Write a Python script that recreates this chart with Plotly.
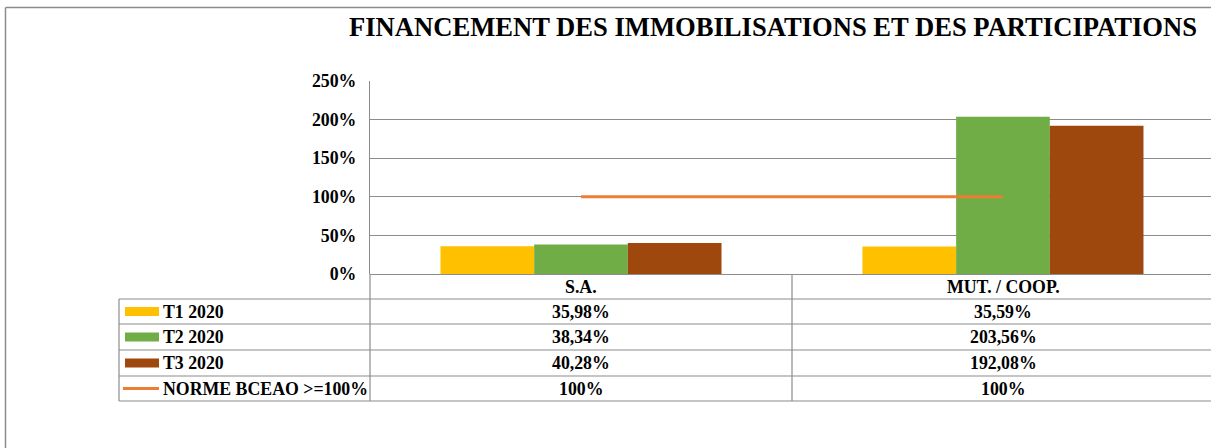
import plotly.graph_objects as go

# ---------------- data ----------------
categories = ["S.A.", "MUT. / COOP."]
series_names = ["T1 2020", "T2 2020", "T3 2020"]
t1_2020 = [0.3598, 0.3559]
t2_2020 = [0.3834, 2.0356]
t3_2020 = [0.4028, 1.9208]
norme_name = "NORME BCEAO >=100%"
norme_bceao = [1.00, 1.00]
y_ticks = [0, 0.5, 1.0, 1.5, 2.0, 2.5]
title_text = "FINANCEMENT DES IMMOBILISATIONS ET DES PARTICIPATIONS"

# ---------------- style ----------------
W, H = 1211, 448
colors = ["#FFC000", "#70AD47", "#9E480E"]
line_color = "#ED7D31"
grid_color = "#8C8C8C"
FONT = "Liberation Serif"
fs = 17.8

# plot area in pixels
PL, PR, PT, PB = 370, 1211, 81, 274
fig = go.Figure()

series = [t1_2020, t2_2020, t3_2020]
for name, vals, c in zip(series_names, series, colors):
    fig.add_trace(go.Bar(x=categories, y=vals, name=name, marker=dict(color=c, line=dict(width=0)),
                         showlegend=False))
fig.add_trace(go.Scatter(x=categories, y=norme_bceao, name=norme_name, mode="lines",
                         line=dict(color=line_color, width=3), showlegend=False))

def px_x(x):
    return (x - PL) / (PR - PL)

def px_y(y):
    return (PB - y) / (PB - PT)

shapes = []
annotations = []

# outer frame (left and top edges visible; right/bottom fall outside the view)
shapes.append(dict(type="line", xref="paper", yref="paper",
                   x0=px_x(5.5), x1=px_x(5.5), y0=px_y(448), y1=px_y(7.5),
                   line=dict(color="#8C8C8C", width=1.5), layer="below"))
shapes.append(dict(type="line", xref="paper", yref="paper",
                   x0=px_x(5.5), x1=px_x(1211), y0=px_y(7.5), y1=px_y(7.5),
                   line=dict(color="#8C8C8C", width=1.5), layer="below"))

# table geometry
row_edges = [274, 299, 324, 350, 376, 401]
col_x = [119, 370, 792, 1214]

def hline(y, x0, x1):
    shapes.append(dict(type="line", xref="paper", yref="paper",
                       x0=px_x(x0), x1=px_x(x1), y0=px_y(y), y1=px_y(y),
                       line=dict(color=grid_color, width=1.2)))

def vline(x, y0, y1):
    shapes.append(dict(type="line", xref="paper", yref="paper",
                       x0=px_x(x), x1=px_x(x), y0=px_y(y0), y1=px_y(y1),
                       line=dict(color=grid_color, width=1.2)))

for i, y in enumerate(row_edges):
    if i == 0:
        continue
    hline(y, col_x[0], col_x[-1])
vline(col_x[0], row_edges[1], row_edges[-1])
vline(col_x[1], PB, row_edges[-1])
vline(col_x[2], PB, row_edges[-1])

def cell_center(r):
    return (row_edges[r] + row_edges[r + 1]) / 2

def fmt(v):
    return f"{v*100:.2f}".replace(".", ",") + "%"

def fmt_int(v):
    return f"{v*100:.0f}%"

txtfont = dict(family=FONT, size=fs, color="black", weight="bold")
# header row: category names
for j, cat in enumerate(categories):
    xc = (col_x[j + 1] + col_x[j + 2]) / 2
    annotations.append(dict(xref="paper", yref="paper", x=px_x(xc), y=px_y(cell_center(0)),
                            text=cat, showarrow=False, font=txtfont, xanchor="center", yanchor="middle"))

rows = [(series_names[k], series[k], fmt) for k in range(3)] + [(norme_name, norme_bceao, fmt_int)]
for r, (name, vals, f) in enumerate(rows, start=1):
    yc = cell_center(r)
    for j, v in enumerate(vals):
        xc = (col_x[j + 1] + col_x[j + 2]) / 2
        annotations.append(dict(xref="paper", yref="paper", x=px_x(xc), y=px_y(yc),
                                text=f(v), showarrow=False, font=txtfont,
                                xanchor="center", yanchor="middle"))
    annotations.append(dict(xref="paper", yref="paper", x=px_x(161), y=px_y(yc),
                            text=name, showarrow=False, font=txtfont,
                            xanchor="left", yanchor="middle"))
    if r <= 3:
        shapes.append(dict(type="rect", xref="paper", yref="paper",
                           x0=px_x(125), x1=px_x(159), y0=px_y(yc + 4.5), y1=px_y(yc - 4.5),
                           fillcolor=colors[r - 1], line=dict(width=0)))
    else:
        shapes.append(dict(type="line", xref="paper", yref="paper",
                           x0=px_x(123), x1=px_x(159), y0=px_y(yc), y1=px_y(yc),
                           line=dict(color=line_color, width=3)))

# title
annotations.append(dict(xref="paper", yref="paper", x=px_x(773), y=px_y(27),
                        text=title_text, showarrow=False,
                        font=dict(family=FONT, size=26.6, color="black", weight="bold"),
                        xanchor="center", yanchor="middle"))

fig.update_layout(
    width=W, height=H,
    margin=dict(l=PL, r=W - PR, t=PT, b=H - PB),
    paper_bgcolor="white", plot_bgcolor="white",
    barmode="group", bargap=0.334, bargroupgap=0,
    shapes=shapes, annotations=annotations,
    xaxis=dict(range=[-0.5, 1.493], showticklabels=False, showgrid=False,
               showline=False, zeroline=False, fixedrange=True),
    yaxis=dict(range=[0, 2.5], tickvals=y_ticks, tickformat=".0%",
               tickfont=dict(family=FONT, size=fs, color="black", weight="bold"),
               showgrid=True, gridcolor=grid_color, gridwidth=1.2,
               showline=True, linecolor=grid_color, linewidth=1.2,
               zeroline=True, zerolinecolor=grid_color, zerolinewidth=1.2,
               ticks="", ticklabelstandoff=9, fixedrange=True),
)

fig.write_html("out.html", config={"displayModeBar": False},
               post_script=("document.body.style.margin='0';document.body.style.padding='0';"
                            "document.body.style.overflow='hidden';"
                            "document.documentElement.style.overflow='hidden';"
                            "document.documentElement.style.background='white';"
                            "document.body.style.background='white';"))
